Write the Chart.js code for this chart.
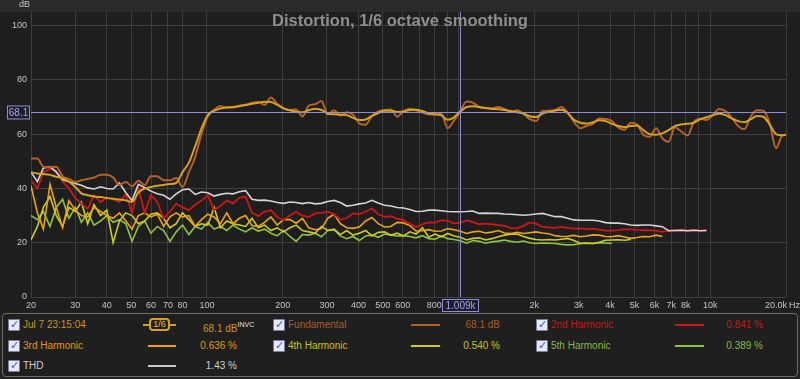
<!DOCTYPE html>
<html><head><meta charset="utf-8">
<script src="https://cdn.jsdelivr.net/npm/chart.js@4.4.0/dist/chart.umd.min.js"></script>
<style>
html,body{margin:0;padding:0;background:#222222;width:800px;height:379px;overflow:hidden;font-family:"Liberation Sans",Arial,sans-serif;}
#c{position:absolute;left:0;top:0;}
#legend{position:absolute;left:2px;top:313px;width:794px;height:62px;border:1px solid #6a6a6a;border-radius:4px;background:#1f1f1f;}
.t{position:absolute;font-size:10px;line-height:12px;white-space:nowrap;}
.r{text-align:right;}
.cb{position:absolute;width:10px;height:10px;border:1px solid #7c7ca8;background:#e6e8f4;border-radius:1px;}
.cb::after{content:"\2713";position:absolute;left:1px;top:-2px;font-size:11px;font-weight:bold;color:#3a5cc0;font-family:"DejaVu Sans",sans-serif;}
.ln{position:absolute;height:2px;}
.sm{position:absolute;border:2px solid #d6a21e;border-radius:4px;width:17px;height:9px;color:#e8c050;font-size:9px;line-height:9px;text-align:center;}
sup{font-size:7px;color:#e0e0e0;vertical-align:5px;}
</style></head>
<body>
<canvas id="c" width="800" height="312"></canvas>
<div id="legend"></div>
<div class="cb" style="left:8px;top:319px"></div>
<div class="t" style="left:23px;top:319px;color:#c8961e">Jul 7 23:15:04</div>
<div class="ln" style="left:143px;top:324px;width:7px;background:#d6a21e"></div>
<div class="sm" style="left:149px;top:318px">1/6</div>
<div class="ln" style="left:170px;top:324px;width:6px;background:#d6a21e"></div>
<div class="t" style="left:203px;top:319px;color:#c8961e">68.1 dB<sup>INVC</sup></div>
<div class="cb" style="left:273px;top:319px"></div>
<div class="t" style="left:288px;top:319px;color:#a85a28">Fundamental</div>
<div class="ln" style="left:411px;top:324px;width:29px;background:#b4622a"></div>
<div class="t r" style="right:300px;top:319px;color:#a85a28">68.1 dB</div>
<div class="cb" style="left:536px;top:319px"></div>
<div class="t" style="left:551px;top:319px;color:#c01818">2nd Harmonic</div>
<div class="ln" style="left:675px;top:324px;width:29px;background:#d01515"></div>
<div class="t r" style="right:37px;top:319px;color:#c01818">0.841 %</div>

<div class="cb" style="left:8px;top:340px"></div>
<div class="t" style="left:23px;top:340px;color:#e09a10">3rd Harmonic</div>
<div class="ln" style="left:148px;top:345px;width:28px;background:#eda412"></div>
<div class="t r" style="right:563px;top:340px;color:#e09a10">0.636 %</div>
<div class="cb" style="left:273px;top:340px"></div>
<div class="t" style="left:288px;top:340px;color:#c4c420">4th Harmonic</div>
<div class="ln" style="left:411px;top:345px;width:29px;background:#cccc22"></div>
<div class="t r" style="right:300px;top:340px;color:#c4c420">0.540 %</div>
<div class="cb" style="left:536px;top:340px"></div>
<div class="t" style="left:551px;top:340px;color:#88b840">5th Harmonic</div>
<div class="ln" style="left:675px;top:345px;width:29px;background:#8cc43c"></div>
<div class="t r" style="right:37px;top:340px;color:#88b840">0.389 %</div>

<div class="cb" style="left:8px;top:360px"></div>
<div class="t" style="left:23px;top:360px;color:#d0d0d0">THD</div>
<div class="ln" style="left:148px;top:365px;width:28px;background:#c8c8c8"></div>
<div class="t r" style="right:563px;top:360px;color:#d0d0d0">1.43 %</div>

<script>
// ---- data ----
const freqs = [20,21.2,22.4,23.8,25.2,26.7,28.3,30,31.7,33.6,
35.6,37.8,40,42.4,44.9,47.6,50.4,53.4,56.6,59.9,
63.5,67.3,71.3,75.5,80,84.8,89.8,95.1,100.8,106.8,
113.1,119.9,127,134.5,142.5,151,160,169.5,179.6,190.3,
201.6,213.6,226.3,239.7,254,269.1,285.1,302,320,339,
359.2,380.5,403.2,427.2,452.5,479.5,508,538.2,570.2,604.1,
640,678,718.4,761.1,806.3,854.3,905.1,958.9,1016,1076,
1140,1208,1280,1356,1437,1522,1613,1709,1810,1918,
2032,2153,2281,2417,2560,2712,2874,3044,3225,3417,
3620,3836,4064,4305,4561,4833,5120,5424,5747,6089,
6451,6834,7241,7671,8127,8611,9123,9665,10240,10849,
11494,12177,12902,13669,14482,15343,16255,17222,18246,19331,
20000];

const measurement = [46,45.5,45.3,45,44.3,43.7,42.5,40.5,38.2,37.5,
37,36.8,36.5,36.2,35.9,35.6,35,38.5,40,40.5,
41,41.3,41.6,42,46,49.5,55.5,62,67,68.6,
69.4,69.8,70,70.3,70.7,71.2,71.6,71.9,71.8,70.8,
69.5,68.8,68.3,68.1,68.8,69.4,68.9,67.6,67.3,67.2,
67,66,65.2,65.4,66.7,67.8,68.6,68.6,68.2,68.3,
68.9,69,68.5,67.6,67.3,66.9,65.3,66.2,68.3,70,
70.3,70,69.6,69.3,69.2,68.9,68.5,68.1,67.6,66.6,
66.3,67.6,68.2,68.7,69,67.8,65.3,64.2,63.9,64.4,
65.1,64.8,63.8,63,62.6,63,63.2,61.5,60,59.8,
60.3,61.5,63,63.6,63.8,64.2,65.5,66.2,67,67.5,
67,65.8,64.8,64.4,65.5,66.7,66.4,63.5,60,59.6,
59.8];

const fundamental = [51,51,48,47.8,48,44.5,43.5,42.4,43,43.5,
44,45,45,44,41.3,42.4,40.8,42.8,41.2,44.5,
44.5,43,43,43.8,40.5,46,51.5,60,66.5,69,
70.3,69.8,69.8,70.5,70.8,71.5,71.8,70.8,73.5,71.2,
69.5,68.8,69.1,66.5,70.5,71,72.2,67.2,68.8,66.8,
68.1,67.2,64,63.5,66.6,68.4,68.9,69.1,66.4,68.5,
69.4,68.8,68,67.3,67.2,67.5,62.2,65,68.5,72,
71.6,70,69.5,69.5,70,69.3,68.2,68.8,67.5,65.5,
64.8,68.5,68.6,68.8,70,68,64.5,62.2,63,63.8,
65.8,65.6,64.8,62.5,61.6,64.2,63.5,59.8,59,62.2,
58.5,57.2,62.5,61,59.5,64.5,65.7,65.2,67,69.3,
68.5,66,63,61.8,66.5,68.8,68.6,64,54.8,59.5,
59.8];

const harmonic2 = [43,40,46,47.2,46.5,42.5,40,36.5,34.4,32.5,
37.5,35,36.5,36,35,37.8,31,40,31,37.5,
35,29,31.5,34.4,33,32,34,35.5,37.5,32,
33.5,35.5,34.5,36.5,37,31,29.8,31.5,32,29.5,
28.3,30,31.4,30,29.5,30.8,31,31.4,30.5,28.5,
29,30.8,30.5,31.5,32.6,30.5,29.5,29.8,28.9,28.3,
27,25.8,26.8,27.5,27.4,28.3,28,27.1,27.4,28.2,
27.6,26.8,27,26.8,26.5,26.2,25.4,25.3,26.2,27.5,
27,25.8,25.6,25.5,25.8,25.5,25.2,25.3,25,25.2,
24.8,24.5,24.4,24.6,24.9,24.9,24.7,24.6,24.6,24.4,
24,24.4,24.5,24.6,24.4,24.6,24.4,24.5];

const harmonic3 = [41,31,25,41.5,33,25.5,35.5,32,30,29.5,
33,31.5,30,29,31,28,25,30,31,29.5,
30.5,26,29.5,31,29.5,30,26,28.5,30.5,29.5,
27,31,27,29,30,26.3,26,27.5,29.5,26.5,
28.5,28.5,27.2,29,25.5,24.8,25.2,29,30.5,27,
25.5,25.3,25.8,28,29.3,27,25.8,26,27.5,27.3,
26.3,24.3,24.4,24.8,24.2,24.3,25.2,24.8,24.2,23.4,
24,24.2,23.6,23.9,24.5,23.6,23.4,23.8,23.4,23.7,
24,23.6,23.3,22.6,22.3,22.4,22.7,22.2,22.5,22.9,
22.8,22.3,22.2,22.6,22.1,21.6,21.9,22.3,22.2,22.8,
22.3];

const harmonic4 = [21,26,33,37,30,26,33,31.5,35,27,
34,30,32,20,28,31,30,27,28,30.5,
31,29,25.5,27,31,28.5,26,27,26.5,33,
25.5,28,27,26.5,26,29,25.5,26.5,24.5,25.5,
24,25.5,26.5,24.5,24,23.5,26,24.5,25,23,
24.5,22.8,23.5,24.5,22.5,23.8,24,22.8,23.5,22.5,
24,23.2,25.5,22,23.2,22.2,23.4,22.5,22,21,
21.6,21.8,21,21.5,22.2,22.8,23.1,23.2,22.3,21.6,
21.2,21,21.2,21,21.3,21.6,20.8,19.8,19.9,19.7,
20.2,20.9,21,21.1,20.9,21.2];

const harmonic5 = [30,28.5,31.5,26,33,36,29,33,27.5,31,
26.5,28,30,27.5,28.5,27,20.5,26,28,23.5,
26,24.5,20.5,24,26.5,23,26,25,27.5,25,
26,24.5,26.5,25,24,25.5,24.3,25,23.5,22.5,
24.5,22.3,20.5,23,22.8,23.5,22.2,24.5,24.8,22.5,
21.5,22.3,20.8,22.5,22.8,22,23.2,22.8,22.5,22.6,
22.3,21.8,22.6,21.5,21.3,22.5,21.5,21.2,20.7,19.8,
20.8,20.5,19.8,20.3,20.6,21,20.5,20.2,20.6,20,
19.7,19.9,19.8,19.7,19.4,19.2,19.3,19.6,19.8,19.7,
20,19.9,19.7];

const thd = [46,42.5,47.5,48,46,43.2,42.5,41.8,41.2,40.2,
39.8,40.6,40,39.8,42,38.5,35.5,41.5,40.3,39,
38,37.5,36,38,39.5,39.8,37.8,38.7,38.4,37.2,
37.8,38.2,38,38.8,39.2,36,35.6,35.7,35.4,34.8,
34.5,35,34.8,34.4,34.8,34.3,34.5,35.2,35.6,34.8,
33.5,33.8,34.3,34.6,35.6,34.6,33.8,33.5,33,32.8,
32.2,31.5,31.6,32,32,31.8,31.5,31.4,31.4,31.5,
31.7,30.8,30.9,30.8,30.8,30.6,30.5,30.3,30.1,30.3,
30.6,30.8,30.2,29.6,29.6,29,28.4,28.3,28.3,28.3,
28,27.4,27.2,27.2,27,26.5,26.4,26.5,26.5,26.2,
25.9,24.4,24.5,24.6,24.4,24.6,24.4,24.5];

const xTickValues = [20,30,40,50,60,70,80,100,200,300,400,500,600,700,800,900,1000,2000,3000,4000,5000,6000,7000,8000,9000,10000,20000];
const xTickLabels = ['20','30','40','50','60','70','80','100','200','300','400','500','600','','800','','','2k','3k','4k','5k','6k','7k','8k','','10k',''];
const yTickValues = [0,20,40,60,80,100];

const cursorFreq = 1009, cursorFreqLabel = '1.009k';
const cursorLevel = 68.1, cursorLevelLabel = '68.1';
const titleText = 'Distortion, 1/6 octave smoothing';

// ---- build ----
const pts = arr => arr.map((v,i)=>({x:freqs[i], y:v}));
const ds = (label, arr, color, w, smooth) => ({
  label, data: pts(arr), borderColor: color, borderWidth: w, pointRadius: 0,
  fill:false, tension: smooth ? 0.4 : 0, cubicInterpolationMode: smooth ? 'monotone' : 'default', spanGaps:false
});

const bgPlugin = {
  id:'bg',
  beforeDraw(chart){
    const {ctx, chartArea:a} = chart;
    ctx.save();
    ctx.fillStyle = '#2a2a2a'; ctx.fillRect(0,0,chart.width,a.top);
    ctx.fillStyle = '#1e1e1e'; ctx.fillRect(0,a.top,chart.width,chart.height-a.top);
    ctx.restore();
  },
  afterDatasetsDraw(chart){
    const {ctx, chartArea:a, scales:{x,y}} = chart;
    const cx = Math.round(x.getPixelForValue(cursorFreq))+0.5;
    const cy = Math.round(y.getPixelForValue(cursorLevel))+0.5;
    ctx.save();
    ctx.strokeStyle = '#8e8ed4'; ctx.lineWidth = 1;
    ctx.beginPath(); ctx.moveTo(cx,a.top); ctx.lineTo(cx,a.bottom); ctx.stroke();
    ctx.beginPath(); ctx.moveTo(a.left,cy); ctx.lineTo(a.right,cy); ctx.stroke();
    ctx.font = '10px "Liberation Sans", Arial, sans-serif';
    ctx.textBaseline = 'middle';
    ctx.fillStyle = '#1e1e2a'; ctx.fillRect(7.5,cy-6.5,22,13);
    ctx.strokeRect(7.5,cy-6.5,22,13);
    ctx.fillStyle = '#a4a4ee'; ctx.textAlign = 'center';
    ctx.fillText(cursorLevelLabel, 18.5, cy+0.5);
    const w = ctx.measureText(cursorFreqLabel).width + 6;
    ctx.fillStyle = '#1e1e2a'; ctx.fillRect(cx-w/2, a.bottom+2.5, w, 12);
    ctx.strokeRect(cx-w/2, a.bottom+2.5, w, 12);
    ctx.fillStyle = '#a4a4ee';
    ctx.fillText(cursorFreqLabel, cx, a.bottom+9);
    ctx.fillStyle = '#c4c4c4'; ctx.font = '9px "Liberation Sans", Arial, sans-serif';
    ctx.textAlign = 'right'; ctx.fillText('20.0k', a.right+1, a.bottom+9);
    ctx.textAlign = 'left'; ctx.fillText('Hz', a.right+3, a.bottom+9);
    ctx.fillText('dB', 19, 5);
    ctx.font = 'bold 16.5px "Liberation Sans", Arial, sans-serif';
    ctx.fillStyle = '#8e8e8e'; ctx.textAlign = 'center';
    ctx.fillText(titleText, 400, 21);
    ctx.restore();
  }
};

new Chart(document.getElementById('c'), {
  type:'line',
  data:{ datasets:[
    ds('Jul 7 23:15:04', measurement, '#d6a21e', 2, true),
    ds('Fundamental', fundamental, '#b4622a', 2, true),
    ds('THD', thd, '#d4d4d4', 1.6, false),
    ds('2nd Harmonic', harmonic2, '#d01515', 1.8, false),
    ds('3rd Harmonic', harmonic3, '#eda412', 1.6, false),
    ds('4th Harmonic', harmonic4, '#cccc22', 1.6, false),
    ds('5th Harmonic', harmonic5, '#8cc43c', 1.6, false)
  ]},
  options:{
    responsive:false, animation:false, devicePixelRatio:1,
    layout:{padding:{left:0,top:12,right:14,bottom:0}},
    plugins:{legend:{display:false}, tooltip:{enabled:false}, title:{display:false}},
    scales:{
      x:{ type:'logarithmic', min:20, max:20000,
        afterBuildTicks(s){ s.ticks = xTickValues.map(v=>({value:v})); },
        afterFit(s){ s.height = 15; },
        ticks:{ autoSkip:false, maxRotation:0, padding:3, color:'#c4c4c4',
          font:{size:9, family:'"Liberation Sans", Arial, sans-serif'},
          callback(v){ const i = xTickValues.indexOf(v); return i>=0 ? xTickLabels[i] : ''; } },
        grid:{ color:'#3e3e3e', drawTicks:false }, border:{display:false}
      },
      y:{ type:'linear', min:0, max:105,
        afterBuildTicks(s){ s.ticks = yTickValues.map(v=>({value:v})); },
        afterFit(s){ s.width = 31; },
        ticks:{ padding:4, color:'#c4c4c4', font:{size:9, family:'"Liberation Sans", Arial, sans-serif'} },
        grid:{ color:'#3e3e3e', drawTicks:false }, border:{display:false}
      }
    }
  },
  plugins:[bgPlugin]
});
</script>
</body></html>
